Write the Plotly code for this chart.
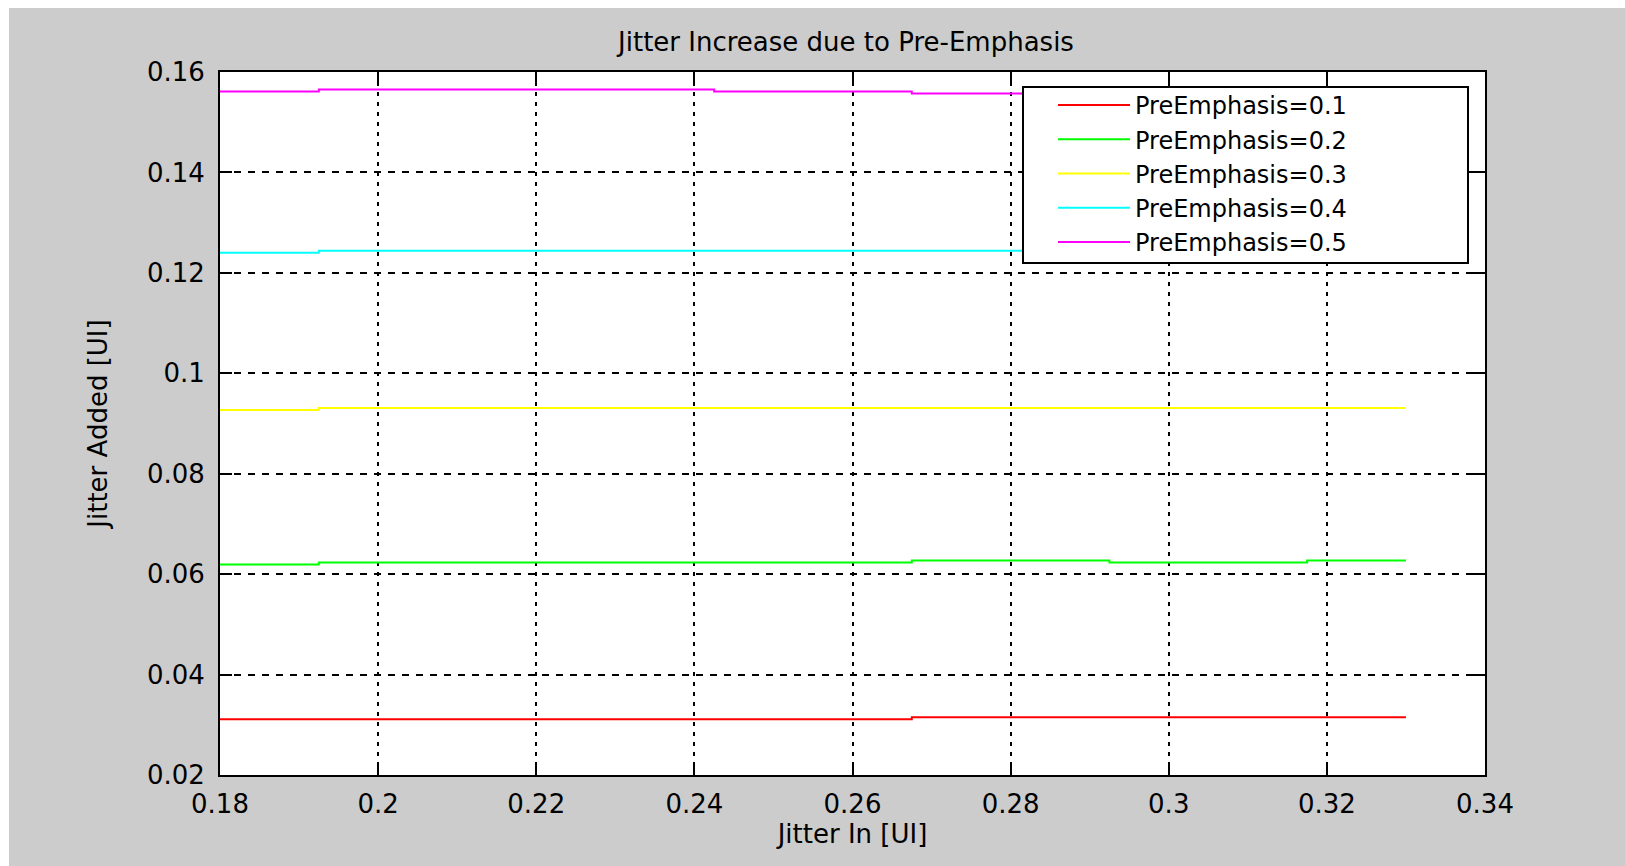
import plotly.graph_objects as go

# Jitter In [UI] breakpoints; each value holds until the next breakpoint
jitter_in = [0.18, 0.1925, 0.2425, 0.2675, 0.2925, 0.3175, 0.33]

added_pe01 = [0.0311, 0.0311, 0.0311, 0.0315, 0.0315, 0.0315, 0.0315]
added_pe02 = [0.0619, 0.0623, 0.0623, 0.0627, 0.0623, 0.0627, 0.0627]
added_pe03 = [0.0927, 0.0931, 0.0931, 0.0931, 0.0931, 0.0931, 0.0931]
added_pe04 = [0.1240, 0.1244, 0.1244, 0.1244, 0.1244, 0.1244, 0.1244]
added_pe05 = [0.1561, 0.1565, 0.1561, 0.1557, 0.1557, 0.1557, 0.1557]

series_names = ["PreEmphasis=0.1", "PreEmphasis=0.2", "PreEmphasis=0.3",
                "PreEmphasis=0.4", "PreEmphasis=0.5"]
series_values = [added_pe01, added_pe02, added_pe03, added_pe04, added_pe05]
series_colors = ["#ff0000", "#00ff00", "#ffff00", "#00ffff", "#ff00ff"]

x_ticks = [0.18, 0.20, 0.22, 0.24, 0.26, 0.28, 0.30, 0.32, 0.34]
x_tick_text = ["0.18", "0.2", "0.22", "0.24", "0.26", "0.28", "0.3", "0.32", "0.34"]
y_ticks = [0.02, 0.04, 0.06, 0.08, 0.10, 0.12, 0.14, 0.16]
y_tick_text = ["0.02", "0.04", "0.06", "0.08", "0.1", "0.12", "0.14", "0.16"]

W, H = 1625, 866
ML, MR, MT, MB = 220, 140, 72, 91
PW, PH = W - ML - MR, H - MT - MB


def px_x(p):
    return (p - ML) / PW


def px_y(p):
    return (H - MB - p) / PH


FONT = "DejaVu Sans"
TEXT_SIZE = 26

fig = go.Figure()
for name, vals, col in zip(series_names, series_values, series_colors):
    fig.add_trace(go.Scatter(
        x=jitter_in, y=vals, name=name, mode="lines",
        line=dict(color=col, width=2, shape="hv"),
    ))

axis_common = dict(
    showline=True, linecolor="black", linewidth=2, mirror="ticks",
    ticks="inside", ticklen=12, tickwidth=2, tickcolor="black",
    showgrid=True, gridcolor="black", gridwidth=1.5,
    zeroline=False,
    tickfont=dict(family=FONT, size=TEXT_SIZE, color="black"),
)

fig.update_xaxes(
    range=[0.18, 0.34], tickvals=x_ticks, ticktext=x_tick_text,
    griddash="4px,6px", ticklabelstandoff=5,
    title=dict(text="Jitter In [UI]", font=dict(family=FONT, size=TEXT_SIZE, color="black"),
               standoff=6),
    **axis_common,
)
fig.update_yaxes(
    range=[0.02, 0.16], tickvals=y_ticks, ticktext=y_tick_text,
    griddash="7px,7px", ticklabelstandoff=8,
    title=dict(text="Jitter Added [UI]", font=dict(family=FONT, size=TEXT_SIZE, color="black"),
               standoff=32),
    **axis_common,
)

shapes = [
    # thin white border along the top and left edges of the window
    dict(type="rect", xref="paper", yref="paper", layer="below",
         x0=px_x(0), x1=px_x(W), y0=px_y(8), y1=px_y(0),
         fillcolor="white", line=dict(width=0)),
    dict(type="rect", xref="paper", yref="paper", layer="below",
         x0=px_x(0), x1=px_x(9), y0=px_y(H), y1=px_y(0),
         fillcolor="white", line=dict(width=0)),
    # legend box
    dict(type="rect", xref="paper", yref="paper", layer="above",
         x0=px_x(1023), x1=px_x(1468), y0=px_y(263), y1=px_y(87),
         fillcolor="white", line=dict(color="black", width=2)),
]

fig.update_layout(
    width=W, height=H,
    margin=dict(l=ML, r=MR, t=MT, b=MB, autoexpand=False),
    paper_bgcolor="#cccccc", plot_bgcolor="white",
    title=dict(text="Jitter Increase due to Pre-Emphasis",
               font=dict(family=FONT, size=TEXT_SIZE, color="black"),
               x=px_x(846), xref="paper", xanchor="center",
               y=1 - 41.5 / H, yref="container", yanchor="middle"),
    showlegend=True,
    legend=dict(
        x=px_x(1053), y=px_y(83), xanchor="left", yanchor="top",
        bgcolor="rgba(0,0,0,0)", borderwidth=0,
        itemwidth=72,
        font=dict(family=FONT, size=24, color="black"),
    ),
    shapes=shapes,
)

fig.write_html("out.html")
